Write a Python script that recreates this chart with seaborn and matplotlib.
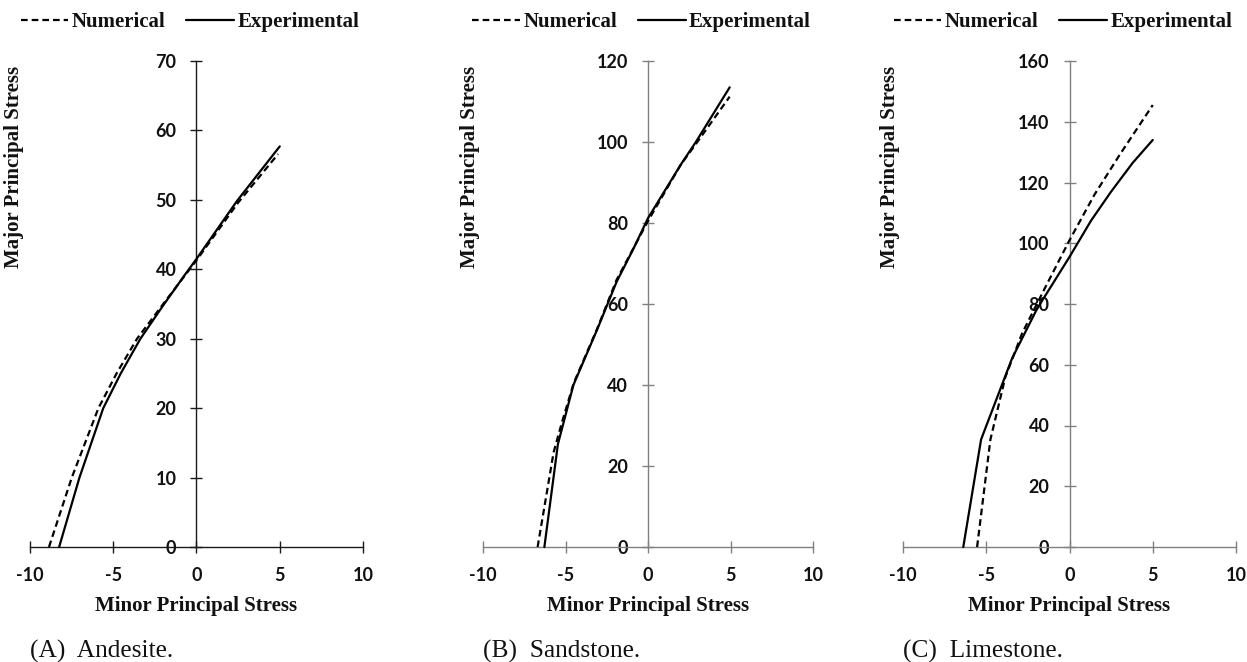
import numpy as np
import pandas as pd
import matplotlib
matplotlib.use("Agg")
import matplotlib.pyplot as plt
import seaborn as sns

# ---------------- data ----------------
xticks = [-10, -5, 0, 5, 10]
xtick_labels = ["-10", "-5", "0", "5", "10"]

# (A) Andesite
a_num_x = [-8.86, -7.49, -5.89, -4.8, -3.57, -2.0, 0.0, 2.5, 4.9]
a_num_y = [0.0, 10.0, 20.0, 25.0, 30.0, 35.0, 41.3, 49.6, 56.6]
a_exp_x = [-8.25, -7.03, -5.6, -4.55, -3.37, -2.0, -0.7, 0.0, 2.45, 5.0]
a_exp_y = [0.0, 10.0, 20.0, 25.0, 30.0, 34.8, 39.2, 41.5, 49.9, 57.7]
a_yticks = [0, 10, 20, 30, 40, 50, 60, 70]

# (B) Sandstone
b_num_x = [-6.69, -5.72, -5.2, -4.5, -3.07, -1.9, 0.0, 2.0, 2.9, 4.95]
b_num_y = [0.0, 23.4, 31.0, 40.5, 54.0, 66.0, 80.5, 94.5, 99.5, 111.2]
b_exp_x = [-6.28, -5.46, -4.52, -3.07, -1.9, -0.9, 0.0, 2.0, 2.9, 4.95]
b_exp_y = [0.0, 25.4, 40.0, 53.8, 65.5, 73.5, 81.2, 94.5, 100.0, 113.5]
b_yticks = [0, 20, 40, 60, 80, 100, 120]

# (C) Limestone
c_num_x = [-5.55, -4.75, -3.85, -2.85, -1.5, 0.0, 1.5, 3.0, 5.0]
c_num_y = [0.0, 35.4, 56.0, 70.3, 85.0, 101.0, 116.0, 129.0, 145.5]
c_exp_x = [-6.38, -5.31, -3.45, -1.95, 0.0, 1.3, 2.5, 3.8, 5.0]
c_exp_y = [0.0, 35.4, 62.1, 78.4, 95.5, 107.5, 117.0, 126.5, 134.0]
c_yticks = [0, 20, 40, 60, 80, 100, 120, 140, 160]

captions = ["(A)  Andesite.", "(B)  Sandstone.", "(C)  Limestone."]
series_names = ["Numerical", "Experimental"]
xlabel = "Minor Principal Stress"
ylabel = "Major Principal Stress"

panels = [
    (a_num_x, a_num_y, a_exp_x, a_exp_y, a_yticks),
    (b_num_x, b_num_y, b_exp_x, b_exp_y, b_yticks),
    (c_num_x, c_num_y, c_exp_x, c_exp_y, c_yticks),
]

# ---------------- style ----------------
sns.set_theme(style="white")
plt.rcParams["font.family"] = ["Lato", "DejaVu Sans"]
SERIF = ["Liberation Serif", "DejaVu Serif"]

W, H = 1247, 662
fig = plt.figure(figsize=(W / 100, H / 100), dpi=100)

# axes pixel boxes (left, right) ; y from 61 (top) to 547 (zero line)
boxes = [(30, 363), (483, 813), (903, 1236)]
y_top, y_bot = 61, 547
spine_colors = ["#1a1a1a", "#808080", "#808080"]
ylabel_x = [-0.018, -0.009, -0.009]

for i, ((nx, ny, ex, ey, yt), (l, r)) in enumerate(zip(panels, boxes)):
    ax = fig.add_axes([l / W, (H - y_bot) / H, (r - l) / W, (y_bot - y_top) / H])
    ax.set_facecolor("none")
    df_n = pd.DataFrame({"x": nx, "y": ny})
    df_e = pd.DataFrame({"x": ex, "y": ey})
    sns.lineplot(data=df_n, x="x", y="y", sort=False, estimator=None, ax=ax,
                 color="black", linewidth=1.6, linestyle=(0, (3, 1.8)),
                 label=series_names[0], clip_on=False)
    sns.lineplot(data=df_e, x="x", y="y", sort=False, estimator=None, ax=ax,
                 color="black", linewidth=1.6, label=series_names[1], clip_on=False)

    ax.set_xlim(-10, 10)
    ax.set_ylim(0, yt[-1])
    for s in ["top", "right"]:
        ax.spines[s].set_visible(False)
    ax.spines["left"].set_position(("data", 0))
    ax.spines["bottom"].set_position(("data", 0))
    for s in ["left", "bottom"]:
        ax.spines[s].set_color(spine_colors[i])
        ax.spines[s].set_linewidth(1.0)
        ax.spines[s].set_zorder(1)

    ax.set_xticks(xticks)
    ax.set_xticklabels(xtick_labels, fontweight="bold", fontsize=13, color="#111111")
    ax.set_yticks(yt)
    ax.set_yticklabels([str(v) for v in yt], fontweight="bold", fontsize=13, color="#111111")
    ax.tick_params(axis="both", direction="inout", length=9, width=1.0,
                   color=spine_colors[i], bottom=True, left=True)
    ax.tick_params(axis="x", pad=10)
    ax.tick_params(axis="y", pad=10)

    ax.set_xlabel(xlabel, family=SERIF, fontweight="bold", fontsize=15, color="#111111")
    ax.xaxis.set_label_coords(0.5, -0.100)
    ax.set_ylabel(ylabel, family=SERIF, fontweight="bold", fontsize=15, color="#111111")
    ax.yaxis.set_label_coords(ylabel_x[i], 0.783)
    ax.grid(False)

    leg = ax.legend(loc="center", bbox_to_anchor=(0.48, 1.08), ncol=2, frameon=False,
                    handlelength=2.3, handletextpad=0.15, columnspacing=1.0,
                    prop={"family": SERIF, "weight": "bold", "size": 15},
                    borderaxespad=0)
    for t in leg.get_texts():
        t.set_color("#111111")

    fig.text(l / W, (H - 657.7) / H, captions[i], family=SERIF, fontsize=18.3,
             ha="left", va="baseline", color="#111111")

fig.savefig("out.png", dpi=100)
